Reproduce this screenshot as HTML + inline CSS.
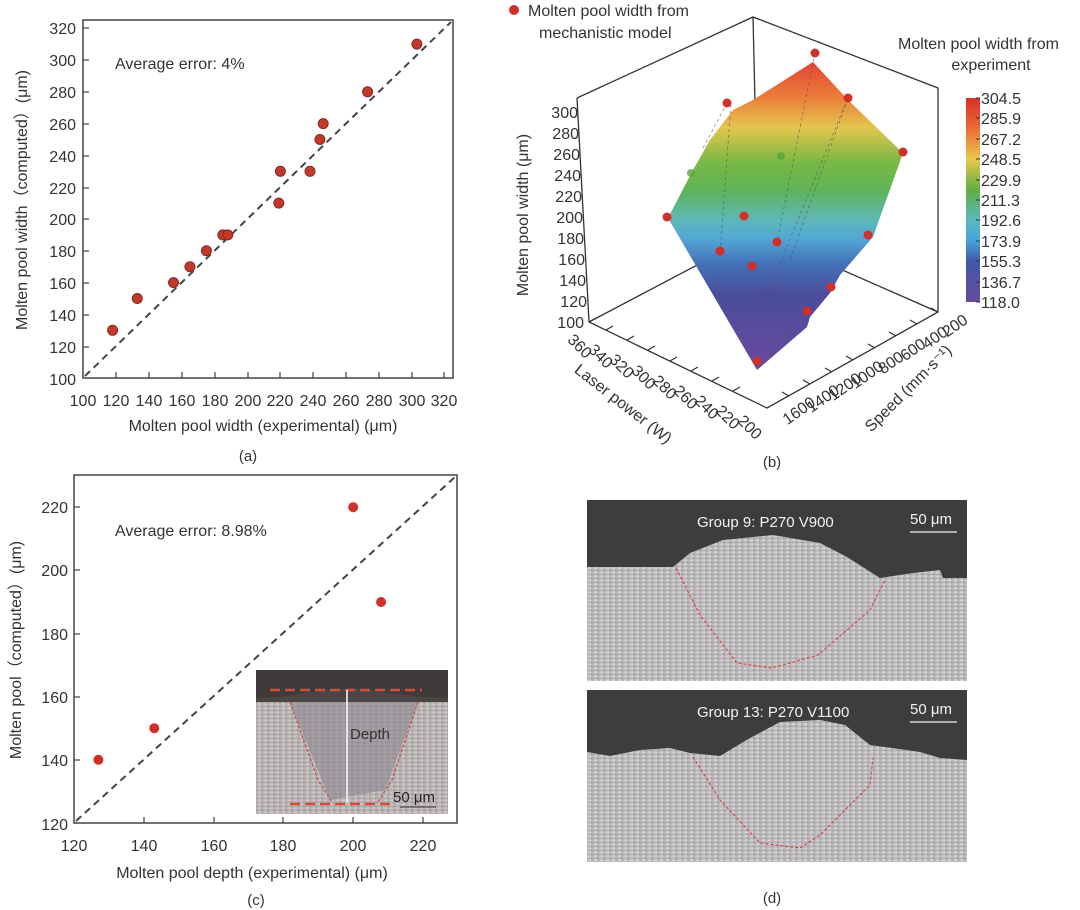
<!DOCTYPE html>
<html><head><meta charset="utf-8"><style>
html,body{margin:0;padding:0;background:#fff;}
svg{display:block;font-family:"Liberation Sans",Arial,sans-serif;}
</style></head><body>
<svg width="1080" height="910" viewBox="0 0 1080 910" xmlns="http://www.w3.org/2000/svg">
<defs>
<linearGradient id="surf" x1="0" y1="55" x2="0" y2="370" gradientUnits="userSpaceOnUse">
<stop offset="0" stop-color="#e03a35"/>
<stop offset="0.13" stop-color="#ec7a3a"/>
<stop offset="0.23" stop-color="#e3c64d"/>
<stop offset="0.34" stop-color="#7ab944"/>
<stop offset="0.43" stop-color="#5fb35a"/>
<stop offset="0.52" stop-color="#5fb7b5"/>
<stop offset="0.58" stop-color="#53a9d6"/>
<stop offset="0.66" stop-color="#4472b8"/>
<stop offset="0.76" stop-color="#4a4c9c"/>
<stop offset="1" stop-color="#6a4aa0"/>
</linearGradient>
<linearGradient id="cbar" x1="0" y1="98" x2="0" y2="302" gradientUnits="userSpaceOnUse">
<stop offset="0" stop-color="#d62f2a"/>
<stop offset="0.15" stop-color="#ec6b36"/>
<stop offset="0.3" stop-color="#e9c84b"/>
<stop offset="0.45" stop-color="#62ae44"/>
<stop offset="0.6" stop-color="#5ab8c0"/>
<stop offset="0.7" stop-color="#46a2d8"/>
<stop offset="0.8" stop-color="#3e5aa8"/>
<stop offset="1" stop-color="#6a4a9e"/>
</linearGradient>
<pattern id="tex" width="6" height="4" patternUnits="userSpaceOnUse">
<rect width="6" height="4" fill="#c2bfc0"/>
<rect x="0" y="0" width="3" height="1" fill="#e8e6e2"/>
<rect x="3" y="2" width="2" height="1" fill="#8f8c96"/>
<rect x="1" y="3" width="2" height="1" fill="#dcdad8"/>
</pattern>
</defs>

<!-- ===== Panel (a) ===== -->
<rect x="83" y="20" width="370" height="358" fill="none" stroke="#444" stroke-width="1.5"/>
<g stroke="#444" stroke-width="1.2">
<line x1="83" y1="28" x2="89" y2="28"/><line x1="83" y1="60" x2="89" y2="60"/><line x1="83" y1="92" x2="89" y2="92"/><line x1="83" y1="124" x2="89" y2="124"/><line x1="83" y1="156" x2="89" y2="156"/><line x1="83" y1="188" x2="89" y2="188"/><line x1="83" y1="219" x2="89" y2="219"/><line x1="83" y1="251" x2="89" y2="251"/><line x1="83" y1="283" x2="89" y2="283"/><line x1="83" y1="315" x2="89" y2="315"/><line x1="83" y1="347" x2="89" y2="347"/>
<line x1="116" y1="378" x2="116" y2="372"/><line x1="149" y1="378" x2="149" y2="372"/><line x1="182" y1="378" x2="182" y2="372"/><line x1="215" y1="378" x2="215" y2="372"/><line x1="248" y1="378" x2="248" y2="372"/><line x1="280" y1="378" x2="280" y2="372"/><line x1="313" y1="378" x2="313" y2="372"/><line x1="346" y1="378" x2="346" y2="372"/><line x1="379" y1="378" x2="379" y2="372"/><line x1="412" y1="378" x2="412" y2="372"/><line x1="444" y1="378" x2="444" y2="372"/>
</g>
<g font-size="16" fill="#333" text-anchor="end">
<text x="76" y="34">320</text><text x="76" y="66">300</text><text x="76" y="98">280</text><text x="76" y="130">260</text><text x="76" y="162">240</text><text x="76" y="194">220</text><text x="76" y="225">200</text><text x="76" y="257">180</text><text x="76" y="289">160</text><text x="76" y="321">140</text><text x="76" y="353">120</text><text x="76" y="385">100</text>
</g>
<g font-size="16" fill="#333" text-anchor="middle">
<text x="83" y="406">100</text><text x="116" y="406">120</text><text x="149" y="406">140</text><text x="182" y="406">160</text><text x="215" y="406">180</text><text x="248" y="406">200</text><text x="280" y="406">220</text><text x="313" y="406">240</text><text x="346" y="406">260</text><text x="379" y="406">280</text><text x="412" y="406">300</text><text x="444" y="406">320</text>
</g>
<text x="263" y="431" font-size="16" fill="#333" text-anchor="middle">Molten pool width (experimental) (μm)</text>
<text x="248" y="461" font-size="15" fill="#333" text-anchor="middle">(a)</text>
<text transform="translate(27,200) rotate(-90)" font-size="16" fill="#333" text-anchor="middle">Molten pool width（computed）(μm)</text>
<text x="115" y="69" font-size="16" fill="#333">Average error: 4%</text>
<line x1="85" y1="376" x2="451" y2="22" stroke="#444" stroke-width="2" stroke-dasharray="7,5"/>
<g fill="#c0392b" stroke="#8a2a20" stroke-width="1">
<circle cx="112.6" cy="330.3" r="5"/><circle cx="137.3" cy="298.5" r="5"/><circle cx="173.5" cy="282.6" r="5"/><circle cx="189.9" cy="266.7" r="5"/><circle cx="206.4" cy="250.8" r="5"/><circle cx="222.8" cy="234.9" r="5"/><circle cx="227.8" cy="234.9" r="5"/><circle cx="278.8" cy="203.1" r="5"/><circle cx="280.4" cy="171.3" r="5"/><circle cx="310" cy="171.3" r="5"/><circle cx="319.9" cy="139.5" r="5"/><circle cx="323.2" cy="123.6" r="5"/><circle cx="367.6" cy="91.8" r="5"/><circle cx="416.9" cy="44.1" r="5"/>
</g>

<!-- ===== Panel (c) ===== -->
<rect x="74" y="475" width="383" height="348" fill="none" stroke="#444" stroke-width="1.5"/>
<g stroke="#444" stroke-width="1.2">
<line x1="74" y1="507" x2="80" y2="507"/><line x1="74" y1="570" x2="80" y2="570"/><line x1="74" y1="634" x2="80" y2="634"/><line x1="74" y1="697" x2="80" y2="697"/><line x1="74" y1="760" x2="80" y2="760"/>
<line x1="144" y1="823" x2="144" y2="817"/><line x1="214" y1="823" x2="214" y2="817"/><line x1="283" y1="823" x2="283" y2="817"/><line x1="353" y1="823" x2="353" y2="817"/><line x1="423" y1="823" x2="423" y2="817"/>
</g>
<g font-size="16" fill="#333" text-anchor="end">
<text x="68" y="513">220</text><text x="68" y="576">200</text><text x="68" y="640">180</text><text x="68" y="703">160</text><text x="68" y="766">140</text><text x="68" y="830">120</text>
</g>
<g font-size="16" fill="#333" text-anchor="middle">
<text x="74" y="851">120</text><text x="144" y="851">140</text><text x="214" y="851">160</text><text x="283" y="851">180</text><text x="353" y="851">200</text><text x="423" y="851">220</text>
</g>
<text x="252" y="878" font-size="16" fill="#333" text-anchor="middle">Molten pool depth (experimental) (μm)</text>
<text x="256" y="905" font-size="15" fill="#333" text-anchor="middle">(c)</text>
<text transform="translate(21,650) rotate(-90)" font-size="16" fill="#333" text-anchor="middle">Molten pool（computed）(μm)</text>
<text x="115" y="536" font-size="16" fill="#333">Average error: 8.98%</text>
<line x1="76" y1="821" x2="455" y2="477" stroke="#444" stroke-width="2" stroke-dasharray="7,5"/>
<!-- inset -->
<rect x="256" y="670" width="192" height="144" fill="url(#tex)"/>
<rect x="256" y="670" width="192" height="144" fill="#a39c98" opacity="0.35"/>
<rect x="256" y="670" width="192" height="28" fill="#3e3b3a"/>
<path d="M256 698 L280 697 L310 692 L350 688 L380 692 L420 697 L448 698 L448 702 L256 702Z" fill="#4a4644"/>
<path d="M290 702 L418 702 L385 790 L330 800 Z" fill="#8e8690" opacity="0.6"/>
<path d="M290 702 L318 780 L332 802 M418 702 L392 780 L378 802" stroke="#c44" stroke-width="1.2" fill="none" stroke-dasharray="3,2"/>
<line x1="270" y1="690" x2="422" y2="690" stroke="#d84a3a" stroke-width="2.5" stroke-dasharray="10,5"/>
<line x1="290" y1="804" x2="395" y2="804" stroke="#d84a3a" stroke-width="2.5" stroke-dasharray="10,5"/>
<line x1="347" y1="690" x2="347" y2="803" stroke="#fff" stroke-width="1.5"/>
<text x="350" y="739" font-size="15" fill="#333">Depth</text>
<text x="393" y="802" font-size="15" fill="#222">50 μm</text>
<line x1="400" y1="807" x2="436" y2="807" stroke="#333" stroke-width="1"/>
<g fill="#d0302a">
<circle cx="98.4" cy="759.8" r="5"/><circle cx="154.3" cy="728.2" r="5"/><circle cx="353.2" cy="507.2" r="5"/><circle cx="381.1" cy="602" r="5"/>
</g>

<!-- ===== Panel (b) ===== -->
<g stroke="#333" stroke-width="1.3" fill="none">
<polyline points="577,98 753,17 938,88 938,312 767,408 589,322 577,98"/>
<line x1="753" y1="17" x2="758" y2="233"/>
<line x1="758" y1="233" x2="589" y2="322"/>
<line x1="758" y1="233" x2="938" y2="312"/>
</g>
<g stroke="#333" stroke-width="1.2">
<line x1="589" y1="322" x2="596" y2="318"/><line x1="606" y1="330" x2="613" y2="326"/><line x1="627" y1="340" x2="634" y2="336"/><line x1="648" y1="350" x2="655" y2="346"/><line x1="670" y1="361" x2="677" y2="357"/><line x1="691" y1="371" x2="698" y2="367"/><line x1="712" y1="381" x2="719" y2="377"/><line x1="733" y1="391" x2="740" y2="387"/>
<line x1="938" y1="312" x2="931" y2="308"/><line x1="917" y1="324" x2="910" y2="320"/><line x1="896" y1="336" x2="889" y2="332"/><line x1="875" y1="348" x2="868" y2="344"/><line x1="853" y1="360" x2="846" y2="356"/><line x1="832" y1="372" x2="825" y2="368"/><line x1="810" y1="384" x2="803" y2="380"/><line x1="789" y1="396" x2="782" y2="392"/>
</g>
<g font-size="16" fill="#333" text-anchor="end">
<text x="578" y="118">300</text><text x="579" y="139">280</text><text x="580" y="160">260</text><text x="581" y="181">240</text><text x="582" y="202">220</text><text x="583" y="223">200</text><text x="584" y="244">180</text><text x="585" y="265">160</text><text x="586" y="286">140</text><text x="587" y="307">120</text><text x="584" y="328">100</text>
</g>
<text transform="translate(528,215) rotate(-90)" font-size="16" fill="#333" text-anchor="middle">Molten pool width (μm)</text>
<g font-size="16" fill="#333" text-anchor="middle">
<text transform="translate(576,350) rotate(45)">360</text>
<text transform="translate(597,360) rotate(45)">340</text>
<text transform="translate(618,370) rotate(45)">320</text>
<text transform="translate(640,381) rotate(45)">300</text>
<text transform="translate(661,391) rotate(45)">280</text>
<text transform="translate(682,401) rotate(45)">260</text>
<text transform="translate(703,411) rotate(45)">240</text>
<text transform="translate(724,421) rotate(45)">220</text>
<text transform="translate(746,431) rotate(45)">200</text>
<text transform="translate(620,408) rotate(38)">Laser power (W)</text>
<text transform="translate(958,330) rotate(-35)">200</text>
<text transform="translate(938,342) rotate(-35)">400</text>
<text transform="translate(916,354) rotate(-35)">600</text>
<text transform="translate(894,367) rotate(-35)">800</text>
<text transform="translate(870,379) rotate(-35)">1000</text>
<text transform="translate(848,391) rotate(-35)">1200</text>
<text transform="translate(826,403) rotate(-35)">1400</text>
<text transform="translate(802,415) rotate(-35)">1600</text>
<text transform="translate(912,392) rotate(-45)">Speed (mm·s⁻¹)</text>
</g>
<polygon points="813,62 848,100 903,153 873,237 840,275 830,293 810,317 807,327 757,370 668,218 693,170 710,140 733,110 753,100" fill="url(#surf)"/>
<g stroke="#555" stroke-width="0.8" stroke-dasharray="3,3" fill="none" opacity="0.7">
<line x1="727" y1="103" x2="702" y2="150"/><line x1="731" y1="105" x2="720" y2="251"/><line x1="815" y1="53" x2="777" y2="242"/><line x1="848" y1="98" x2="790" y2="260"/><line x1="845" y1="105" x2="765" y2="300"/><line x1="807" y1="311" x2="765" y2="360"/>
</g>
<g fill="#d0302a">
<circle cx="815" cy="53" r="4.5"/><circle cx="848" cy="98" r="4.5"/><circle cx="903" cy="152" r="4.5"/><circle cx="727" cy="103" r="4.5"/><circle cx="667" cy="217" r="4.5"/><circle cx="744" cy="216" r="4.5"/><circle cx="720" cy="251" r="4.5"/><circle cx="777" cy="242" r="4.5"/><circle cx="752" cy="266" r="4.5"/><circle cx="868" cy="235" r="4.5"/><circle cx="831" cy="287" r="4.5"/><circle cx="807" cy="311" r="4.5"/><circle cx="757" cy="361" r="4.5"/>
</g>
<g fill="#5aa63a" opacity="0.8"><circle cx="691" cy="173" r="4"/><circle cx="781" cy="156" r="4"/></g>
<circle cx="514" cy="10" r="5" fill="#d0302a"/>
<text x="528" y="16" font-size="16" fill="#333">Molten pool width from</text>
<text x="539" y="38" font-size="16" fill="#333">mechanistic model</text>
<text x="898" y="49" font-size="16" fill="#333">Molten pool width from</text>
<text x="991" y="70" font-size="16" fill="#333" text-anchor="middle">experiment</text>
<rect x="966" y="98" width="14" height="204" fill="url(#cbar)"/>
<g stroke="#333" stroke-width="1">
<line x1="976" y1="98" x2="980" y2="98"/><line x1="976" y1="118" x2="980" y2="118"/><line x1="976" y1="139" x2="980" y2="139"/><line x1="976" y1="159" x2="980" y2="159"/><line x1="976" y1="180" x2="980" y2="180"/><line x1="976" y1="200" x2="980" y2="200"/><line x1="976" y1="220" x2="980" y2="220"/><line x1="976" y1="241" x2="980" y2="241"/><line x1="976" y1="261" x2="980" y2="261"/><line x1="976" y1="282" x2="980" y2="282"/><line x1="976" y1="302" x2="980" y2="302"/>
</g>
<g font-size="16" fill="#333">
<text x="981" y="104">304.5</text><text x="981" y="124">285.9</text><text x="981" y="145">267.2</text><text x="981" y="165">248.5</text><text x="981" y="186">229.9</text><text x="981" y="206">211.3</text><text x="981" y="226">192.6</text><text x="981" y="247">173.9</text><text x="981" y="267">155.3</text><text x="981" y="288">136.7</text><text x="981" y="308">118.0</text>
</g>
<text x="772" y="467" font-size="15" fill="#333" text-anchor="middle">(b)</text>

<!-- ===== Panel (d) ===== -->
<rect x="587" y="500" width="380" height="181" fill="url(#tex)"/>
<rect x="587" y="500" width="380" height="181" fill="#a9a4b0" opacity="0.25"/>
<path d="M587 500 L967 500 L967 578 L943 578 L940 570 L913 573 L880 578 L847 557 L820 543 L773 535 L723 540 L690 553 L673 567 L587 567 Z" fill="#3f3d3c"/>
<path d="M676 568 L700 615 L737 663 L772 668 L818 655 L870 610 L885 580" stroke="#d24a44" stroke-width="1.2" fill="none" stroke-dasharray="3,2"/>
<text x="697" y="527" font-size="15" fill="#f2f2f2">Group 9: P270 V900</text>
<text x="910" y="524" font-size="15" fill="#f2f2f2">50 μm</text>
<line x1="910" y1="532" x2="957" y2="532" stroke="#f2f2f2" stroke-width="1.3"/>

<rect x="587" y="690" width="380" height="172" fill="url(#tex)"/>
<rect x="587" y="690" width="380" height="172" fill="#a9a4b0" opacity="0.25"/>
<path d="M587 690 L967 690 L967 760 L940 758 L920 752 L870 745 L845 725 L820 720 L780 722 L750 738 L720 756 L690 753 L670 748 L640 750 L610 756 L587 752 Z" fill="#3f3d3c"/>
<path d="M693 757 L720 800 L760 843 L800 848 L820 835 L870 785 L873 758" stroke="#d24a44" stroke-width="1.2" fill="none" stroke-dasharray="3,2"/>
<text x="697" y="717" font-size="15" fill="#f2f2f2">Group 13: P270 V1100</text>
<text x="910" y="714" font-size="15" fill="#f2f2f2">50 μm</text>
<line x1="910" y1="722" x2="957" y2="722" stroke="#f2f2f2" stroke-width="1.3"/>
<text x="772" y="903" font-size="15" fill="#333" text-anchor="middle">(d)</text>
</svg>
</body></html>
